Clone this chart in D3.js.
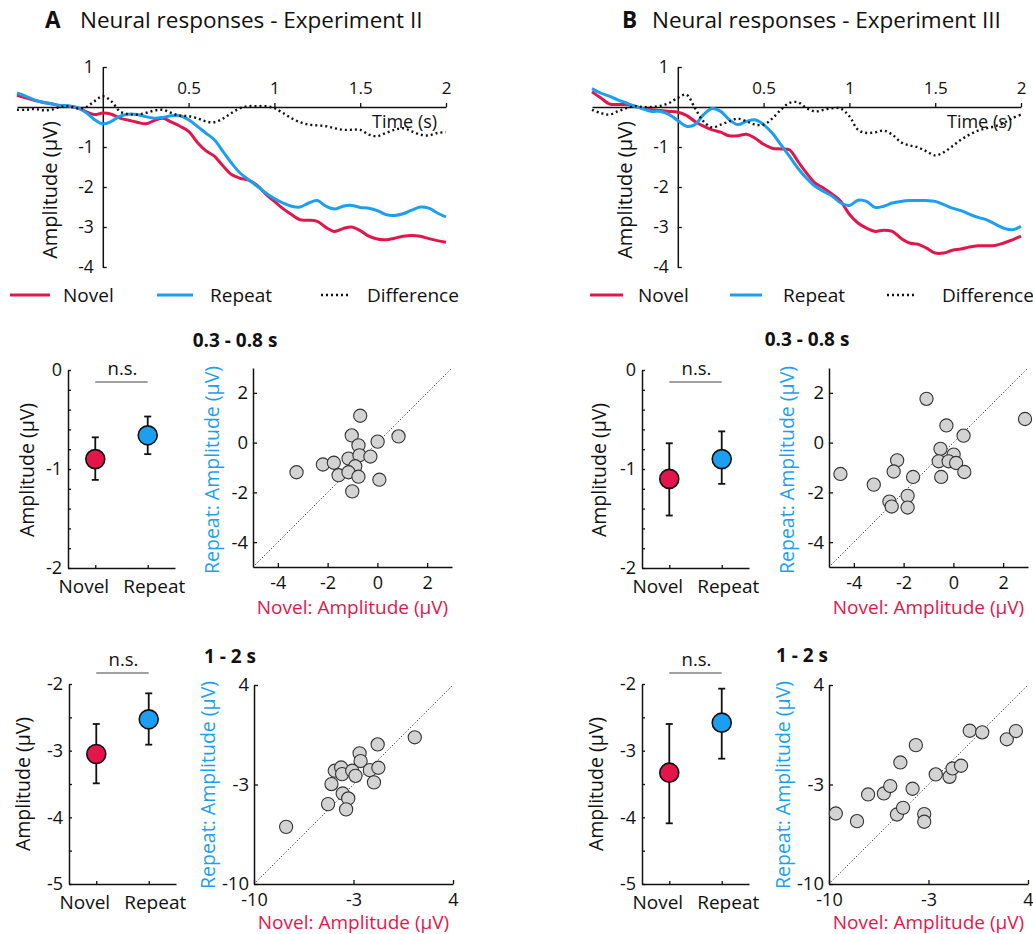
<!DOCTYPE html>
<html>
<head>
<meta charset="utf-8">
<script src="https://cdn.jsdelivr.net/npm/d3@7"></script>
<style>
  body { margin: 0; background: #fff; }
  svg { font-family: "Open Sans", sans-serif; }
</style>
</head>
<body>
<script>
// ---- data ----
const time = [-0.5,-0.45,-0.4,-0.35,-0.3,-0.25,-0.2,-0.15,-0.1,-0.05,0,0.05,0.1,0.15,0.2,0.25,0.3,0.35,0.4,0.45,
  0.5,0.55,0.6,0.65,0.7,0.75,0.8,0.85,0.9,0.95,1,1.05,1.1,1.15,1.2,1.25,1.3,1.35,1.4,1.45,
  1.5,1.55,1.6,1.65,1.7,1.75,1.8,1.85,1.9,1.95,2]
const timeTicks = [0.5, 1, 1.5, 2]
const ampTicks = [1, -1, -2, -3, -4]

// Experiment II
const novelA = [0.29,0.23,0.17,0.12,0.08,0.04,0.02,-0.02,-0.11,-0.19,-0.15,-0.18,-0.28,-0.33,-0.38,-0.42,-0.34,-0.28,-0.38,-0.48,
  -0.61,-0.88,-1.09,-1.23,-1.47,-1.69,-1.78,-1.83,-1.96,-2.18,-2.36,-2.54,-2.69,-2.82,-2.83,-2.86,-3.01,-3.11,-3.04,-3.0,
  -3.09,-3.23,-3.3,-3.32,-3.28,-3.23,-3.21,-3.23,-3.29,-3.34,-3.38]
const repeatA = [0.35,0.27,0.18,0.12,0.08,0.04,0.03,-0.01,-0.13,-0.31,-0.42,-0.36,-0.23,-0.18,-0.19,-0.24,-0.28,-0.26,-0.22,-0.22,
  -0.32,-0.48,-0.65,-0.82,-1.11,-1.4,-1.65,-1.82,-1.98,-2.15,-2.29,-2.4,-2.48,-2.5,-2.4,-2.34,-2.48,-2.55,-2.48,-2.46,
  -2.51,-2.53,-2.59,-2.69,-2.71,-2.67,-2.58,-2.5,-2.53,-2.65,-2.75]
const diffA = [-0.07,-0.07,-0.05,-0.08,-0.07,0,0.02,-0.03,-0.01,0.14,0.27,0.14,-0.11,-0.18,-0.19,-0.15,-0.09,-0.07,-0.15,-0.22,
  -0.23,-0.28,-0.36,-0.38,-0.29,-0.15,-0.03,0.02,0.02,0.02,-0.03,-0.15,-0.28,-0.38,-0.44,-0.46,-0.48,-0.53,-0.57,-0.57,
  -0.57,-0.69,-0.73,-0.65,-0.57,-0.53,-0.61,-0.69,-0.71,-0.65,-0.63]

// Experiment III
const novelB = [0.38,0.23,0.08,0.06,0.06,0.02,-0.04,-0.07,-0.09,-0.11,-0.13,-0.21,-0.36,-0.48,-0.57,-0.63,-0.72,-0.72,-0.68,-0.78,
  -0.93,-1.03,-1.05,-1.07,-1.36,-1.65,-1.9,-2.03,-2.18,-2.36,-2.68,-2.9,-3.03,-3.11,-3.08,-3.11,-3.28,-3.4,-3.43,-3.53,
  -3.65,-3.65,-3.58,-3.55,-3.5,-3.47,-3.47,-3.46,-3.4,-3.32,-3.23]
const repeatB = [0.46,0.35,0.27,0.18,0.1,0.02,-0.05,-0.11,-0.11,-0.19,-0.34,-0.48,-0.44,-0.19,-0.04,-0.11,-0.32,-0.44,-0.36,-0.32,
  -0.44,-0.65,-0.94,-1.23,-1.53,-1.78,-1.98,-2.11,-2.23,-2.4,-2.46,-2.33,-2.36,-2.51,-2.48,-2.4,-2.36,-2.34,-2.34,-2.34,
  -2.36,-2.44,-2.53,-2.59,-2.68,-2.76,-2.82,-2.93,-3.03,-3.07,-2.98]
const diffB = [-0.07,-0.15,-0.19,-0.11,-0.03,0.02,0,0,0.03,0.1,0.23,0.31,-0.03,-0.36,-0.51,-0.44,-0.36,-0.29,-0.36,-0.44,
  -0.44,-0.29,-0.07,0.1,0.12,-0.03,-0.11,-0.07,-0.03,-0.04,-0.23,-0.57,-0.65,-0.63,-0.59,-0.69,-0.88,-0.96,-1.01,-1.11,
  -1.21,-1.13,-0.98,-0.82,-0.69,-0.59,-0.53,-0.48,-0.4,-0.28,-0.19]

const conditions = ["Novel", "Repeat"]

// 0.3 - 0.8 s window: condition means and error bar limits
const earlyMeanA = [-0.9, -0.66], earlyLowA = [-1.11, -0.85], earlyHighA = [-0.68, -0.47]
const earlyMeanB = [-1.1, -0.9],  earlyLowB = [-1.47, -1.15], earlyHighB = [-0.74, -0.62]
// 1 - 2 s window
const lateMeanA = [-3.05, -2.53], lateLowA = [-3.49, -2.91], lateHighA = [-2.6, -2.14]
const lateMeanB = [-3.33, -2.58], lateLowB = [-4.09, -3.12], lateHighB = [-2.6, -2.07]

const earlyTicks = [0,-0.2,-0.4,-0.6,-0.8,-1,-1.2,-1.4,-1.6,-1.8,-2]
const lateTicks = [-2,-2.5,-3,-3.5,-4,-4.5,-5]
const earlyScatterTicks = [-4, -2, 0, 2]
const lateScatterTicks = [-10, -3, 4]

// per-subject amplitudes (novel, repeat)
const earlyNovelA = [-3.25,-0.69,-1.03,-0.76,0.01,0.85,-1.16,-0.72,-0.28,-2.19,-1.75,-0.89,-1.56,-1.16,-0.76,0.08,-1.01]
const earlyRepeatA = [-1.19,1.08,0.29,-0.11,0.04,0.25,-0.64,-0.51,-0.56,-0.88,-0.81,-0.95,-1.31,-1.19,-1.37,-1.49,-1.96]
const earlyNovelB = [-4.54,-1.08,2.88,-0.28,0.41,-0.52,0.01,-0.59,-0.19,0.11,0.44,-0.49,-2.26,-2.4,-1.62,-3.2,-1.84,-2.57,-2.48,-1.84]
const earlyRepeatB = [-1.26,1.76,0.95,0.69,0.28,-0.25,-0.48,-0.75,-0.75,-0.82,-1.18,-1.38,-0.71,-1.16,-1.38,-1.69,-2.14,-2.37,-2.57,-2.61]
const lateNovelA = [-7.74,1.31,-1.3,-2.57,-2.5,-4.32,-3.87,-3.8,-3.09,-2.86,-1.85,-1.25,-4.55,-1.56,-3.76,-3.37,-4.79,-3.52]
const lateRepeatA = [-5.98,0.32,-0.18,-0.81,-1.35,-2.03,-1.8,-2.27,-2.03,-2.39,-1.99,-1.82,-2.97,-2.85,-3.63,-3.98,-4.38,-4.75]
const lateNovelB = [-9.52,-8.03,-7.25,-6.14,-5.69,-4.98,-3.89,-4.12,-5.22,-4.79,-3.3,-3.3,-2.49,-1.52,-1.31,-0.71,-0.1,0.78,2.51,3.15]
const lateRepeatB = [-5.04,-5.58,-3.7,-3.63,-3.11,-1.45,-0.23,-3.3,-5.11,-4.64,-5.08,-5.62,-2.29,-2.46,-1.87,-1.68,0.78,0.67,0.18,0.76]

const red = "#e3164b"
const blue = "#1c9ff0"
const ink = "#111"

const svg = d3.select("body").append("svg")
    .attr("width", 1033)
    .attr("height", 934)
    .attr("viewBox", [0, 0, 1033, 934])

function axisStyle(g, size) {
  g.attr("font-family", null).attr("font-size", size)
  g.select(".domain").attr("stroke", ink).attr("stroke-width", 1.5)
  g.selectAll(".tick line").attr("stroke", ink).attr("stroke-width", 1.3)
  g.selectAll(".tick text").attr("fill", ink)
}

function label(text, x, y, {size = 19, color = ink, rotate = false, anchor = "middle", weight = null} = {}) {
  return svg.append("text")
      .attr("transform", `translate(${x},${y})` + (rotate ? " rotate(-90)" : ""))
      .attr("text-anchor", anchor)
      .attr("font-size", size)
      .attr("font-weight", weight)
      .attr("fill", color)
      .text(text)
}

// ---- ERP waveforms ----
function drawWave({left, novel, repeat, diff, yLab, timeX, legend}) {
  const x = d3.scaleLinear([time[0], time[time.length - 1]], [left, left + 429])
  const y = d3.scaleLinear([-4, 1], [267, 67])

  svg.append("g")
      .attr("transform", `translate(0,${y(0)})`)
      .call(d3.axisTop(x).tickValues(timeTicks).tickSize(4).tickSizeOuter(0).tickPadding(9).tickFormat(String))
      .call(g => axisStyle(g, 17))

  svg.append("g")
      .attr("transform", `translate(${x(0)},0)`)
      .call(d3.axisLeft(y).tickValues(ampTicks).tickSize(-4).tickSizeOuter(0).tickPadding(9).tickFormat(String))
      .call(g => axisStyle(g, 17.5))

  const line = d3.line()
      .x((d, i) => x(time[i]))
      .y(d => y(d))
      .curve(d3.curveCatmullRom)

  svg.append("path").attr("d", line(novel))
      .attr("fill", "none").attr("stroke", red).attr("stroke-width", 3)
  svg.append("path").attr("d", line(repeat))
      .attr("fill", "none").attr("stroke", blue).attr("stroke-width", 3)
  svg.append("path").attr("d", line(diff))
      .attr("fill", "none").attr("stroke", ink).attr("stroke-width", 2.4)
      .attr("stroke-dasharray", "2,3")

  label("Time (s)", timeX, 128, {size: 18, anchor: "start"})
  label("Amplitude (µV)", yLab, 190, {size: 20, rotate: true})

  // legend
  const ly = 295
  const keys = [
    {name: "Novel", color: red, dash: null, w: 3},
    {name: "Repeat", color: blue, dash: null, w: 3},
    {name: "Difference", color: ink, dash: "2,3", w: 2.4},
  ]
  keys.forEach((k, i) => {
    const [x0, x1, tx] = legend[i]
    svg.append("line").attr("x1", x0).attr("x2", x1).attr("y1", ly).attr("y2", ly)
        .attr("stroke", k.color).attr("stroke-width", k.w).attr("stroke-dasharray", k.dash)
    label(k.name, tx, ly + 7, {size: 19, anchor: "start"})
  })
}

// ---- condition means with error bars ----
function drawMeans({left, top, bottom, domain, ticks, mean, low, high, yLab, nsY}) {
  const x = d3.scalePoint(conditions, [left, left + 107]).padding(0.52)
  const y = d3.scaleLinear(domain, [bottom, top])

  svg.append("g")
      .attr("transform", `translate(${left},0)`)
      .call(d3.axisLeft(y).tickValues(ticks).tickSize(-3).tickSizeOuter(0).tickPadding(6)
          .tickFormat(d => Number.isInteger(d) ? String(d) : ""))
      .call(g => axisStyle(g, 18))

  // category labels sit a little apart from their ticks, as in the figure
  svg.append("g")
      .attr("transform", `translate(0,${bottom})`)
      .call(d3.axisBottom(x).tickSize(-3).tickSizeOuter(0).tickPadding(12))
      .call(g => axisStyle(g, 19))
      .call(g => g.selectAll(".tick text").attr("x", d => d === "Novel" ? -12 : 6))

  const colors = [red, blue]
  conditions.forEach((c, i) => {
    const cx = x(c)
    svg.append("line").attr("x1", cx).attr("x2", cx).attr("y1", y(low[i])).attr("y2", y(high[i]))
        .attr("stroke", ink).attr("stroke-width", 1.8)
    ;[low[i], high[i]].forEach(v => {
      svg.append("line").attr("x1", cx - 3.5).attr("x2", cx + 3.5).attr("y1", y(v)).attr("y2", y(v))
          .attr("stroke", ink).attr("stroke-width", 1.8)
    })
    svg.append("circle").attr("cx", cx).attr("cy", y(mean[i])).attr("r", 9.5)
        .attr("fill", colors[i]).attr("stroke", ink).attr("stroke-width", 1.6)
  })

  // significance marker
  svg.append("line").attr("x1", x("Novel")).attr("x2", x("Repeat")).attr("y1", nsY).attr("y2", nsY)
      .attr("stroke", "#444").attr("stroke-width", 1.2)
  label("n.s.", (x("Novel") + x("Repeat")) / 2 + 1, nsY - 7, {size: 18.5})

  label("Amplitude (µV)", yLab[0], yLab[1], {size: 19.5, rotate: true})
}

// ---- novel vs repeat scatter ----
function drawScatter({left, top, domain, ticks, xs, ys, yLab, xLabY}) {
  const size = 199
  const x = d3.scaleLinear(domain, [left, left + size])
  const y = d3.scaleLinear(domain, [top + size, top])

  svg.append("line")
      .attr("x1", x(domain[0])).attr("y1", y(domain[0]))
      .attr("x2", x(domain[1])).attr("y2", y(domain[1]))
      .attr("stroke", "#333").attr("stroke-width", 1).attr("stroke-dasharray", "1.2,2")

  svg.append("g")
      .attr("transform", `translate(0,${top + size})`)
      .call(d3.axisBottom(x).tickValues(ticks).tickSize(-4).tickSizeOuter(0).tickPadding(9).tickFormat(String))
      .call(g => axisStyle(g, 18))

  svg.append("g")
      .attr("transform", `translate(${left},0)`)
      .call(d3.axisLeft(y).tickValues(ticks).tickSize(-4).tickSizeOuter(0).tickPadding(5).tickFormat(String))
      .call(g => axisStyle(g, 18.5))

  svg.append("g")
    .selectAll("circle")
    .data(xs)
    .join("circle")
      .attr("cx", d => x(d))
      .attr("cy", (d, i) => y(ys[i]))
      .attr("r", 6.6)
      .attr("fill", "#d3d3d3")
      .attr("stroke", "#333")
      .attr("stroke-width", 1.1)

  label("Repeat: Amplitude (µV)", yLab[0], yLab[1], {size: 19.5, rotate: true, color: blue})
  label("Novel: Amplitude (µV)", left + size / 2, xLabY, {size: 19, color: red})
}

// ---- panel titles ----
label("A", 45, 28, {size: 22.5, anchor: "start", weight: "bold"})
label("Neural responses - Experiment II", 80, 28, {size: 22.5, anchor: "start"})
label("B", 622, 28, {size: 22.5, anchor: "start", weight: "bold"})
label("Neural responses - Experiment III", 652, 28, {size: 22.5, anchor: "start"})

drawWave({left: 17, novel: novelA, repeat: repeatA, diff: diffA, yLab: 57, timeX: 372,
  legend: [[10, 50, 63], [157, 193, 210], [321, 349, 367]]})
drawWave({left: 592, novel: novelB, repeat: repeatB, diff: diffB, yLab: 632, timeX: 947,
  legend: [[590, 623, 638], [730, 762, 783], [887, 917, 942]]})

label("0.3 - 0.8 s", 235, 347, {size: 19, weight: "bold"})
label("0.3 - 0.8 s", 807, 346, {size: 19, weight: "bold"})
label("1 - 2 s", 230, 663, {size: 19, weight: "bold"})
label("1 - 2 s", 802, 662, {size: 19, weight: "bold"})

drawMeans({left: 68, top: 370, bottom: 568, domain: [-2, 0], ticks: earlyTicks,
  mean: earlyMeanA, low: earlyLowA, high: earlyHighA, yLab: [34, 470], nsY: 382})
drawMeans({left: 642, top: 370, bottom: 568, domain: [-2, 0], ticks: earlyTicks,
  mean: earlyMeanB, low: earlyLowB, high: earlyHighB, yLab: [606, 470], nsY: 382})
drawMeans({left: 69, top: 684, bottom: 884, domain: [-5, -2], ticks: lateTicks,
  mean: lateMeanA, low: lateLowA, high: lateHighA, yLab: [30, 784], nsY: 673})
drawMeans({left: 642, top: 684, bottom: 884, domain: [-5, -2], ticks: lateTicks,
  mean: lateMeanB, low: lateLowB, high: lateHighB, yLab: [603, 784], nsY: 673})

drawScatter({left: 253, top: 368, domain: [-5, 3], ticks: earlyScatterTicks,
  xs: earlyNovelA, ys: earlyRepeatA, yLab: [219, 470], xLabY: 614})
drawScatter({left: 829, top: 368, domain: [-5, 3], ticks: earlyScatterTicks,
  xs: earlyNovelB, ys: earlyRepeatB, yLab: [794, 470], xLabY: 614})
drawScatter({left: 254, top: 685, domain: [-10, 4], ticks: lateScatterTicks,
  xs: lateNovelA, ys: lateRepeatA, yLab: [215, 785], xLabY: 929})
drawScatter({left: 829, top: 685, domain: [-10, 4], ticks: lateScatterTicks,
  xs: lateNovelB, ys: lateRepeatB, yLab: [790, 785], xLabY: 929})
</script>
</body>
</html>
